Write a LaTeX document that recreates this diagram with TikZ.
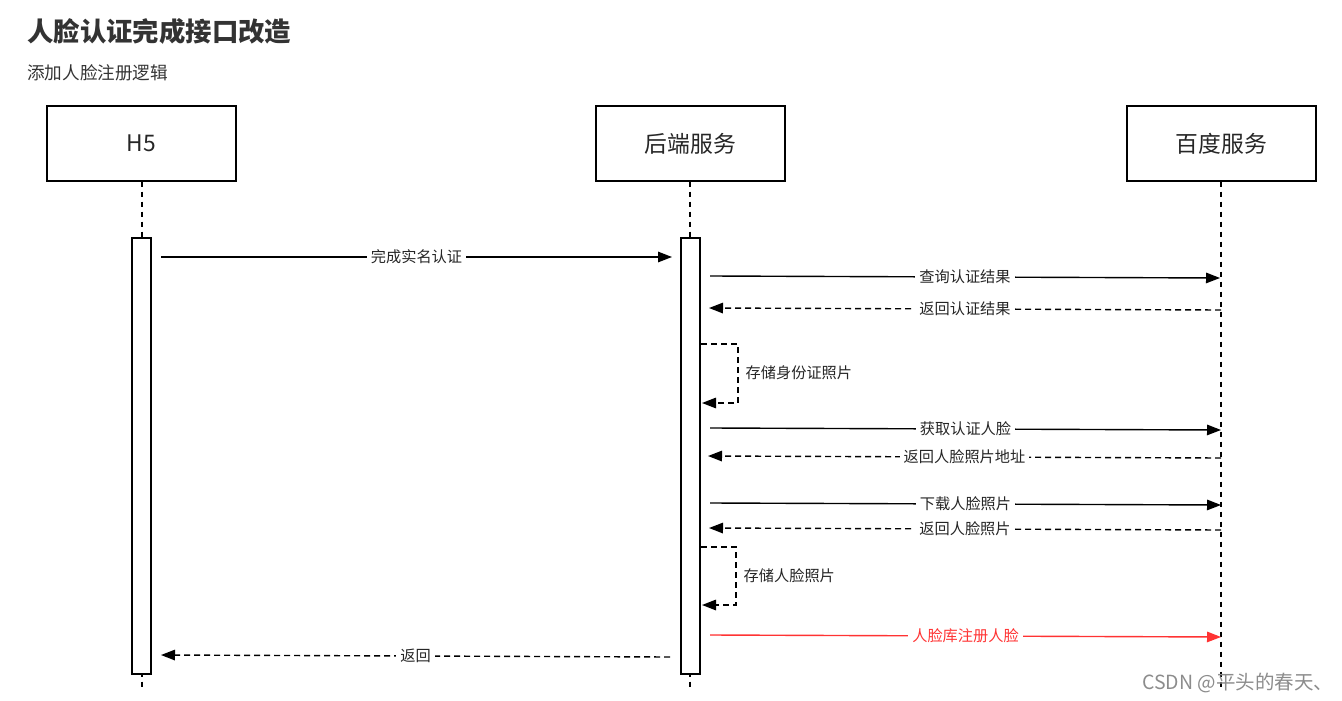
\documentclass[tikz,border=0pt]{standalone}
\usepackage{fontspec}
\setmainfont{Noto Sans CJK SC}
\usetikzlibrary{arrows.meta}
\definecolor{txt}{HTML}{333333}
\definecolor{msgred}{HTML}{FF3333}
\tikzset{
  actor/.style={draw, line width=1.4pt, minimum width=189pt, minimum height=75pt, inner sep=0pt, font=\fontsize{22.8}{26}\selectfont, text=black!85},
  lifeline/.style={line width=1.4pt, dash pattern=on 5pt off 5pt},
  actbar/.style={draw, line width=1.4pt, fill=white, minimum width=19pt, minimum height=436pt, inner sep=0pt},
  msg/.style={line width=1.4pt, -{Triangle[length=14pt,width=10.5pt]}},
  ret/.style={msg, dash pattern=on 6pt off 4pt},
  lbl/.style={fill=white, inner sep=4pt, font=\fontsize{15.2}{17}\selectfont, text=black!85},
  slbl/.style={anchor=west, inner sep=0pt, xshift=7pt, font=\fontsize{15.2}{17}\selectfont, text=black!85}
}
\begin{document}
\begin{tikzpicture}[x=1pt,y=-1pt]
\useasboundingbox (0,0) rectangle (1342,701);
% title
\node[anchor=west, inner sep=0pt, text=txt, font=\fontsize{26.4}{30}\selectfont\bfseries] (title) at (27,31) {人脸认证完成接口改造};
\node[anchor=west, inner sep=0pt, text=txt, font=\fontsize{17.6}{20}\selectfont] (sub) at (27,73) {添加人脸注册逻辑};
% actors
\node[actor] (h5) at (141.5,143.5) {H5};
\node[actor] (be) at (690.5,143.5) {后端服务};
\node[actor] (bd) at (1221.5,143.5) {百度服务};
% lifelines
\coordinate (h5end) at (142,688);
\coordinate (beend) at (690,688);
\coordinate (bdend) at (1221,688);
\draw[lifeline] (h5.south -| h5end) -- (h5end);
\draw[lifeline] (be.south -| beend) -- (beend);
\draw[lifeline] (bd.south -| bdend) -- (bdend);
% activation bars
\node[actbar] (h5bar) at (141.5,456) {};
\node[actbar] (bebar) at (690.5,456) {};
% messages
\coordinate (m1a) at (161,257); \coordinate (m1b) at (672,257);
\draw[msg] (m1a) -- node[lbl] {完成实名认证} (m1b);
\coordinate (m2a) at (710,276); \coordinate (m2b) at (1220,278);
\draw[msg] (m2a) -- node[lbl] {查询认证结果} (m2b);
\coordinate (m3a) at (1221,310); \coordinate (m3b) at (709,308);
\draw[ret] (m3a) -- node[lbl] {返回认证结果} (m3b);
\coordinate (s1a) at (701,344); \coordinate (s1b) at (738,344);
\coordinate (s1c) at (738,403); \coordinate (s1d) at (702,403);
\draw[ret] (s1a) -- (s1b) -- node[slbl, pos=0.48] {存储身份证照片} (s1c) -- (s1d);
\coordinate (m5a) at (710,428); \coordinate (m5b) at (1221,430);
\draw[msg] (m5a) -- node[lbl] {获取认证人脸} (m5b);
\coordinate (m6a) at (1221,458); \coordinate (m6b) at (708,456);
\draw[ret] (m6a) -- node[lbl] {返回人脸照片地址} (m6b);
\coordinate (m7a) at (710,503); \coordinate (m7b) at (1221,505);
\draw[msg] (m7a) -- node[lbl] {下载人脸照片} (m7b);
\coordinate (m8a) at (1221,530); \coordinate (m8b) at (709,528);
\draw[ret] (m8a) -- node[lbl] {返回人脸照片} (m8b);
\coordinate (s2a) at (701,547); \coordinate (s2b) at (736,547);
\coordinate (s2c) at (736,605); \coordinate (s2d) at (702,605);
\draw[ret] (s2a) -- (s2b) -- node[slbl, pos=0.5] {存储人脸照片} (s2c) -- (s2d);
\coordinate (m10a) at (710,635); \coordinate (m10b) at (1221,637);
\draw[msg, draw=msgred, fill=msgred] (m10a) -- node[lbl, text=msgred] {人脸库注册人脸} (m10b);
\coordinate (m11a) at (670,657); \coordinate (m11b) at (161,655);
\draw[ret] (m11a) -- node[lbl] {返回} (m11b);
% watermark
\node[anchor=west, inner sep=0pt, text=black!45, font=\fontsize{19.5}{22}\selectfont] (wm) at (1142,683) {CSDN @平头的春天、};
\end{tikzpicture}
\end{document}
